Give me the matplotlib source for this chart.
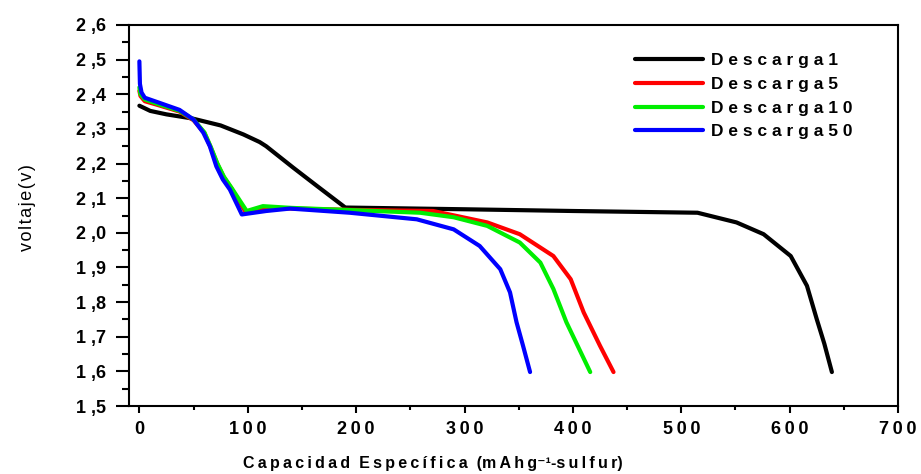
import matplotlib
matplotlib.use("Agg")
import matplotlib.pyplot as plt
from matplotlib.ticker import MultipleLocator, FuncFormatter

plt.rcParams["font.family"] = ["Liberation Sans", "DejaVu Sans"]

# Descarga 1
cap1 = [0, 10, 25, 49, 75, 96, 111, 117, 142, 164, 190, 300, 400, 515, 551, 576, 601, 616, 625, 632, 639]
volt1 = [2.367, 2.352, 2.342, 2.330, 2.310, 2.284, 2.262, 2.250, 2.188, 2.135, 2.073, 2.068, 2.063, 2.058,
         2.030, 1.996, 1.933, 1.847, 1.751, 1.680, 1.598]

# Descarga 5
cap5 = [0, 1, 5, 16, 37, 50, 60, 66, 72, 78, 85, 98, 114, 140, 200, 271, 321, 351, 382, 398, 410, 425, 437.5]
volt5 = [2.410, 2.395, 2.380, 2.370, 2.350, 2.325, 2.288, 2.245, 2.198, 2.160, 2.128, 2.060, 2.072, 2.070,
         2.066, 2.063, 2.030, 1.996, 1.933, 1.866, 1.770, 1.674, 1.598]

# Descarga 10
cap10 = [0, 1, 5, 16, 37, 50, 60, 66, 72, 78, 85, 99, 114, 140, 200, 259, 290, 321, 351, 370, 382, 394, 405, 416]
volt10 = [2.420, 2.400, 2.385, 2.373, 2.352, 2.327, 2.290, 2.247, 2.200, 2.162, 2.130, 2.063, 2.077, 2.072,
          2.065, 2.058, 2.045, 2.020, 1.972, 1.914, 1.838, 1.742, 1.670, 1.598]

# Descarga 50
cap50 = [0, 0.5, 2, 5, 16, 37, 50, 59, 65, 71, 77, 83.5, 94.5, 117, 139, 194, 256, 290, 314, 333, 342, 348,
         354, 360.5]
volt50 = [2.495, 2.430, 2.405, 2.390, 2.378, 2.355, 2.327, 2.289, 2.250, 2.192, 2.154, 2.125, 2.053, 2.063,
          2.070, 2.058, 2.039, 2.010, 1.962, 1.895, 1.828, 1.742, 1.674, 1.598]

series = [
    (cap1, volt1, "black", "Descarga1"),
    (cap5, volt5, "#ff0000", "Descarga5"),
    (cap10, volt10, "#00ee00", "Descarga10"),
    (cap50, volt50, "#0000ff", "Descarga50"),
]

THIN = "\u2009"
HAIR = "\u200a"


def spaced(s, sep=" "):
    return sep.join(s)


fig = plt.figure(figsize=(9.21, 4.74), dpi=100)
ax = fig.add_axes([129.3 / 921, 68 / 474, (898 - 129.3) / 921, (406 - 25) / 474])

for cap, volt, color, label in series:
    ax.plot(cap, volt, color=color, linewidth=3, label=spaced(label), solid_capstyle="round",
            solid_joinstyle="round")

ax.set_xlim(-9.3, 700)
ax.set_ylim(1.5, 2.6)

ax.xaxis.set_major_locator(MultipleLocator(100))
ax.xaxis.set_minor_locator(MultipleLocator(50))
ax.yaxis.set_major_locator(MultipleLocator(0.1))
ax.yaxis.set_minor_locator(MultipleLocator(0.05))

ax.xaxis.set_major_formatter(FuncFormatter(lambda v, p: THIN.join("%d" % round(v))))
ax.yaxis.set_major_formatter(FuncFormatter(lambda v, p: ("%.1f" % v).replace(".", " ,")))

for s in ax.spines.values():
    s.set_linewidth(1.5)

ax.tick_params(axis="y", which="major", direction="out", length=9.5, width=1.5, labelsize=13, pad=7)
ax.tick_params(axis="y", which="minor", direction="out", length=5, width=1.5)
ax.tick_params(axis="x", which="major", direction="out", length=5, width=1.5, labelsize=13, pad=6)
ax.tick_params(axis="x", which="minor", direction="out", length=3, width=1.5)
for lab in ax.get_xticklabels() + ax.get_yticklabels():
    lab.set_fontweight("bold")

xlab = (spaced("Capacidad", THIN) + "  " + spaced("Específica", THIN) + "  (" + spaced("mAhg", THIN)
        + "⁻¹-" + spaced("sulfur", THIN) + ")")
ax.set_xlabel(xlab, fontsize=11.5, fontweight="bold")
ax.xaxis.set_label_coords(0.395, -0.13)
ax.set_ylabel(spaced("voltaje(v)", HAIR), fontsize=13)
ax.yaxis.set_label_coords(-0.122, 0.52)

ax.legend(loc="upper left", bbox_to_anchor=(0.658, 0.927), frameon=False, handlelength=3.9,
          handletextpad=0.5, labelspacing=0.5, borderpad=0, borderaxespad=0,
          prop={"size": 12.5, "weight": "bold"})

fig.savefig("out.png", dpi=100)
